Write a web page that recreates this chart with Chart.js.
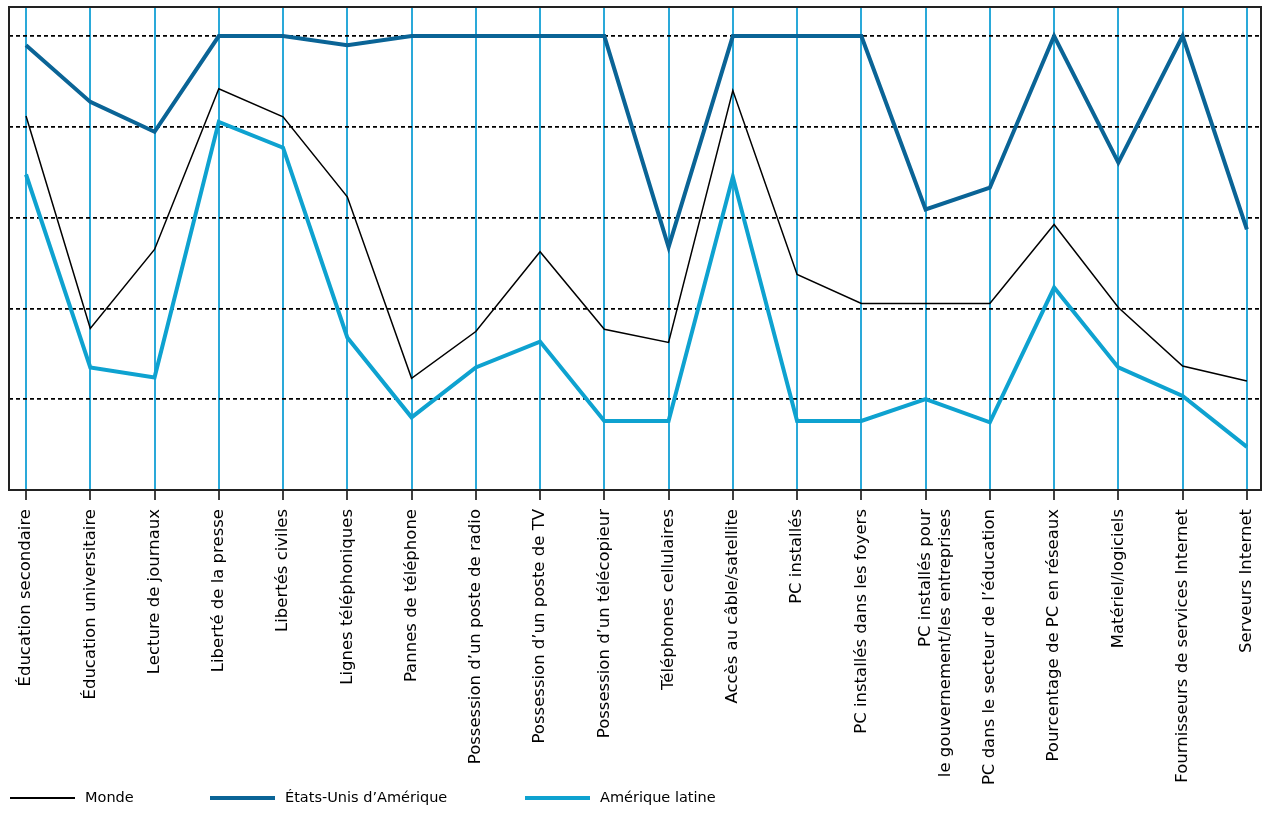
<!DOCTYPE html>
<html>
<head>
<meta charset="utf-8">
<script src="https://cdn.jsdelivr.net/npm/chart.js@4"></script>
<style>
  html, body { margin: 0; padding: 0; background: #fff; }
  #wrap { position: relative; width: 1265px; height: 814px; }
  #legend { position: absolute; left: 0; top: 788px; height: 20px; font-family: "DejaVu Sans", sans-serif; font-size: 14.5px; color: #000; }
  .item { position: absolute; top: 0; height: 20px; white-space: nowrap; }
  .item .sw { position: absolute; left: 0; top: 10px; width: 65px; }
  .item .tx { position: absolute; left: 75px; top: 1px; }
</style>
</head>
<body>
<div id="wrap">
  <canvas id="c" width="1265" height="814"></canvas>
  <div id="legend"></div>
</div>
<script>
const categories = [
  "Éducation secondaire",
  "Éducation universitaire",
  "Lecture de journaux",
  "Liberté de la presse",
  "Libertés civiles",
  "Lignes téléphoniques",
  "Pannes de téléphone",
  "Possession d’un poste de radio",
  "Possession d’un poste de TV",
  "Possession d’un télécopieur",
  "Téléphones cellulaires",
  "Accès au câble/satellite",
  "PC installés",
  "PC installés dans les foyers",
  ["PC installés pour", "le gouvernement/les entreprises"],
  "PC dans le secteur de l’éducation",
  "Pourcentage de PC en réseaux",
  "Matériel/logiciels",
  "Fournisseurs de services Internet",
  "Serveurs Internet"
];
const seriesNames = ["Monde", "États-Unis d’Amérique", "Amérique latine"];
const monde = [82.4, 35.6, 53.0, 88.4, 82.2, 64.6, 24.6, 34.9, 52.5, 35.4, 32.5, 88.0, 47.5, 41.1, 41.1, 41.1, 58.5, 40.2, 27.3, 24.0];
const usa   = [98.0, 85.5, 78.9, 100, 100, 98.0, 100, 100, 100, 100, 53.5, 100, 100, 100, 61.8, 66.6, 100, 72.1, 100, 57.4];
const latin = [69.5, 27.0, 24.8, 81.1, 75.4, 33.6, 16.0, 27.0, 32.7, 15.2, 15.2, 69.0, 15.2, 15.2, 20.0, 14.9, 44.6, 27.0, 20.7, 9.5];
const yGridValues = [20, 40, 60, 80, 100];

const COL_MONDE = "#000000";
const COL_USA = "#0a6496";
const COL_LATIN = "#0ea2d0";
const COL_VGRID = "#2aa9d9";

function toPoints(arr) { return arr.map((v, i) => ({ x: i, y: v })); }

const boxPlugin = {
  id: "box",
  afterDraw(chart) {
    const a = chart.chartArea, ctx = chart.ctx;
    ctx.save();
    ctx.strokeStyle = "#222";
    ctx.lineWidth = 2;
    ctx.strokeRect(a.left, a.top, a.right - a.left, a.bottom - a.top);
    ctx.restore();
  }
};

const chart = new Chart(document.getElementById("c"), {
  type: "line",
  data: {
    datasets: [
      { label: seriesNames[0], data: toPoints(monde), borderColor: COL_MONDE, backgroundColor: COL_MONDE, borderWidth: 1.5 },
      { label: seriesNames[1], data: toPoints(usa), borderColor: COL_USA, backgroundColor: COL_USA, borderWidth: 4 },
      { label: seriesNames[2], data: toPoints(latin), borderColor: COL_LATIN, backgroundColor: COL_LATIN, borderWidth: 4 }
    ]
  },
  options: {
    responsive: false,
    animation: false,
    devicePixelRatio: 1,
    layout: { padding: { left: 9, right: 4, top: 7, bottom: 0 } },
    elements: { point: { radius: 0 }, line: { tension: 0, borderJoinStyle: "miter" } },
    plugins: { legend: { display: false }, tooltip: { enabled: false } },
    scales: {
      x: {
        type: "linear",
        min: -0.265,
        max: 19.22,
        afterFit(scale) {
          scale.height = 324;
          scale.paddingLeft = 0;
          scale.paddingRight = 0;
        },
        afterBuildTicks(scale) { scale.ticks = categories.map((c, i) => ({ value: i })); },
        ticks: {
          autoSkip: false,
          maxRotation: 90,
          minRotation: 90,
          padding: 9,
          color: "#000",
          font: { family: "DejaVu Sans", size: 16.5, lineHeight: 1.25 },
          callback: (v) => categories[v]
        },
        grid: {
          color: COL_VGRID,
          lineWidth: 2,
          drawTicks: true,
          tickLength: 10,
          tickColor: "#000",
          tickWidth: 1.5
        },
        border: { display: false }
      },
      y: {
        min: 0,
        max: 106.4,
        afterFit(scale) { scale.width = 0; },
        afterBuildTicks(scale) { scale.ticks = yGridValues.map(v => ({ value: v })); },
        ticks: { display: false },
        grid: { color: "#000", lineWidth: 1.8, drawTicks: false },
        border: { display: false, dash: [4, 3] }
      }
    }
  },
  plugins: [boxPlugin]
});

// HTML legend built from datasets
const legendPos = [10, 210, 525];
const legendWidths = [1.5, 4, 4];
const leg = document.getElementById("legend");
chart.data.datasets.forEach((ds, i) => {
  const it = document.createElement("div");
  it.className = "item";
  it.style.left = legendPos[i] + "px";
  const sw = document.createElement("div");
  sw.className = "sw";
  sw.style.height = legendWidths[i] + "px";
  sw.style.marginTop = (-legendWidths[i] / 2) + "px";
  sw.style.background = ds.borderColor;
  const tx = document.createElement("span");
  tx.className = "tx";
  tx.textContent = ds.label;
  it.appendChild(sw);
  it.appendChild(tx);
  leg.appendChild(it);
});
</script>
</body>
</html>
